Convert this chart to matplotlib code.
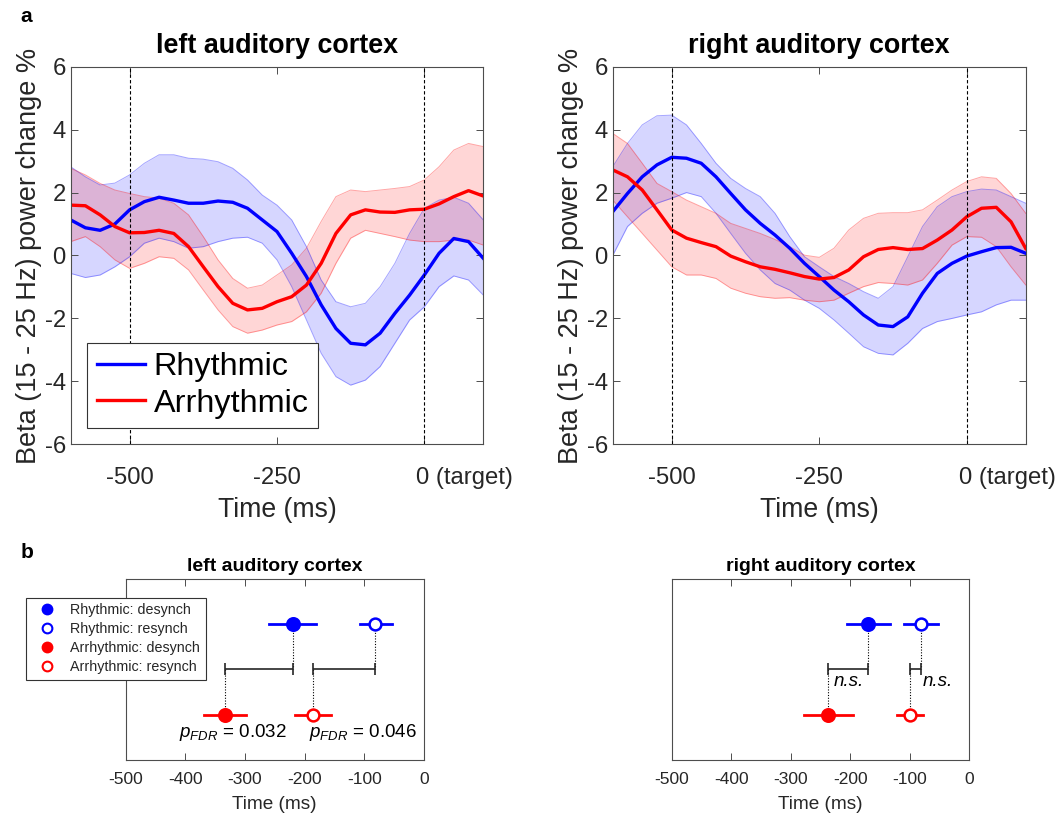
import matplotlib
matplotlib.use('Agg')
import matplotlib.pyplot as plt
import matplotlib.transforms as mtransforms
from matplotlib.lines import Line2D
import numpy as np

plt.rcParams['font.family'] = ['Liberation Sans', 'DejaVu Sans']
plt.rcParams['mathtext.fontset'] = 'custom'
plt.rcParams['mathtext.it'] = 'Liberation Sans:italic'
plt.rcParams['mathtext.rm'] = 'Liberation Sans'
plt.rcParams['axes.unicode_minus'] = False

# ---- panel a data (time in ms, beta power change %) ----
time = [-600, -575, -550, -525, -500, -475, -450, -425, -400, -375, -350, -325, -300, -275,
        -250, -225, -200, -175, -150, -125, -100, -75, -50, -25, 0, 25, 50, 75, 100]

left_rhy = [1.13, 0.88, 0.80, 1.00, 1.45, 1.71, 1.85, 1.76, 1.66, 1.66, 1.73, 1.69, 1.50, 1.13,
            0.76, 0.07, -0.67, -1.57, -2.32, -2.79, -2.84, -2.47, -1.84, -1.26, -0.62, 0.07, 0.54, 0.44, -0.09]
left_rhy_hi = [2.82, 2.50, 2.24, 2.30, 2.56, 2.93, 3.20, 3.20, 3.09, 3.06, 2.98, 2.77, 2.40, 1.92,
               1.60, 1.13, 0.28, -0.78, -1.47, -1.63, -1.52, -0.99, -0.25, 0.70, 1.50, 1.76, 1.85, 1.66, 1.13]
left_rhy_lo = [-0.57, -0.70, -0.62, -0.36, -0.04, 0.39, 0.55, 0.44, 0.23, 0.28, 0.44, 0.55, 0.58, 0.39,
               -0.14, -0.99, -2.05, -3.11, -3.85, -4.12, -3.96, -3.53, -2.79, -2.05, -1.63, -0.99, -0.65, -0.78, -1.26]
left_arr = [1.60, 1.58, 1.29, 0.92, 0.72, 0.73, 0.80, 0.70, 0.28, -0.36, -0.99, -1.52, -1.73, -1.68,
            -1.47, -1.31, -0.94, -0.25, 0.70, 1.29, 1.45, 1.38, 1.37, 1.45, 1.47, 1.64, 1.87, 2.06, 1.89]
left_arr_hi = [2.77, 2.56, 2.29, 2.08, 1.97, 1.87, 1.82, 1.66, 1.29, 0.60, -0.14, -0.73, -1.04, -0.94,
               -0.62, -0.30, 0.23, 1.08, 1.87, 2.08, 2.03, 2.08, 2.13, 2.19, 2.40, 2.82, 3.35, 3.56, 3.46]
left_arr_lo = [0.44, 0.60, 0.28, -0.14, -0.41, -0.25, -0.04, -0.09, -0.46, -1.10, -1.73, -2.26, -2.47, -2.37,
               -2.21, -2.10, -1.79, -1.20, -0.25, 0.55, 0.80, 0.70, 0.60, 0.49, 0.44, 0.44, 0.49, 0.49, 0.33]

right_rhy = [1.39, 1.97, 2.50, 2.88, 3.12, 3.09, 2.93, 2.50, 1.97, 1.45, 1.02, 0.65, 0.23, -0.25,
             -0.67, -1.10, -1.47, -1.89, -2.21, -2.26, -1.95, -1.20, -0.57, -0.25, -0.02, 0.12, 0.25, 0.26, 0.07]
right_rhy_hi = [2.82, 3.56, 4.15, 4.44, 4.46, 4.15, 3.56, 2.93, 2.45, 2.13, 1.87, 1.34, 0.60, -0.04,
                -0.36, -0.67, -0.89, -1.15, -1.36, -0.99, -0.04, 0.92, 1.55, 1.87, 2.03, 2.11, 2.08, 1.87, 1.66]
right_rhy_lo = [0.00, 0.92, 1.34, 1.66, 1.82, 2.00, 1.87, 1.34, 0.70, 0.07, -0.46, -0.89, -1.10, -1.42,
                -1.68, -2.05, -2.47, -2.90, -3.11, -3.16, -2.79, -2.32, -2.10, -2.00, -1.89, -1.79, -1.57, -1.42, -1.42]
right_arr = [2.72, 2.50, 2.08, 1.45, 0.81, 0.55, 0.41, 0.28, -0.02, -0.20, -0.36, -0.44, -0.55, -0.67,
             -0.75, -0.70, -0.46, -0.04, 0.19, 0.25, 0.19, 0.22, 0.49, 0.81, 1.23, 1.50, 1.53, 1.07, 0.22]
right_arr_hi = [3.88, 3.56, 2.93, 2.29, 2.03, 1.76, 1.55, 1.34, 1.02, 0.86, 0.70, 0.51, 0.28, 0.01,
                -0.06, 0.23, 0.81, 1.18, 1.34, 1.36, 1.36, 1.45, 1.76, 2.08, 2.35, 2.50, 2.45, 1.97, 1.34]
right_arr_lo = [1.76, 1.23, 0.70, 0.17, -0.36, -0.62, -0.62, -0.73, -1.04, -1.20, -1.31, -1.36, -1.34, -1.42,
                -1.47, -1.42, -1.20, -0.99, -0.86, -0.89, -0.94, -0.78, -0.25, 0.33, 0.60, 0.58, 0.28, -0.36, -0.94]

x_ticks_a = [-500, -250, 0]
x_ticklabels_a = ['-500', '-250', '0 (target)']

# ---- panel b data (peak latencies, ms) ----
conditions = ['Rhythmic: desynch', 'Rhythmic: resynch', 'Arrhythmic: desynch', 'Arrhythmic: resynch']
left_lat = [-219, -81, -334, -186]
left_lat_lo = [-259, -107, -369, -216]
left_lat_hi = [-181, -54, -299, -155]
right_lat = [-170, -81, -238, -100]
right_lat_lo = [-206, -110, -278, -121]
right_lat_hi = [-133, -52, -195, -77]
left_stats = ['$p_{FDR}$ = 0.032', '$p_{FDR}$ = 0.046']
right_stats = ['n.s.', 'n.s.']

BLUE = (0, 0, 1)
RED = (1, 0, 0)
GREY = '#262626'

fig = plt.figure(figsize=(10.61, 8.17), dpi=100)


def style_axes(ax, size):
    for s in ax.spines.values():
        s.set_color('0.3')
        s.set_linewidth(0.8)
    ax.tick_params(direction='in', top=True, right=True, length=5, width=0.7,
                   color='0.3', labelcolor=GREY, labelsize=size)


def draw_top(ax, title, rhy, rhy_lo, rhy_hi, arr, arr_lo, arr_hi, legend=False):
    ax.fill_between(time, rhy_lo, rhy_hi, color=BLUE, alpha=0.16, lw=0)
    ax.plot(time, rhy_lo, color=BLUE, lw=0.7, alpha=0.35)
    ax.plot(time, rhy_hi, color=BLUE, lw=0.7, alpha=0.35)
    ax.fill_between(time, arr_lo, arr_hi, color=RED, alpha=0.16, lw=0)
    ax.plot(time, arr_lo, color=RED, lw=0.7, alpha=0.35)
    ax.plot(time, arr_hi, color=RED, lw=0.7, alpha=0.35)
    l1, = ax.plot(time, rhy, color=BLUE, lw=2.4, label='Rhythmic')
    l2, = ax.plot(time, arr, color=RED, lw=2.4, label='Arrhythmic')
    for xv in [-500, 0]:
        ax.axvline(xv, color='k', lw=0.8, ls=(0, (3, 2)))
    ax.set_xlim(-600, 100)
    ax.set_ylim(-6, 6)
    ax.set_xticks(x_ticks_a)
    ax.set_xticklabels(x_ticklabels_a)
    ax.set_yticks(np.arange(-6, 7, 2))
    ax.set_xlabel('Time (ms)', fontsize=19.2, color=GREY, labelpad=6)
    ax.set_ylabel('Beta (15 - 25 Hz) power change %', fontsize=19.5, color=GREY, labelpad=2)
    ax.set_title(title, fontsize=19.4, fontweight='bold', pad=10)
    style_axes(ax, 17.2)
    ax.tick_params(axis='x', pad=16)
    # the "0" of "0 (target)" sits on the tick, the rest runs to the right
    lab = ax.get_xticklabels()[-1]
    lab.set_horizontalalignment('left')
    lab.set_transform(lab.get_transform() + mtransforms.ScaledTranslation(-8 / 100, 0, fig.dpi_scale_trans))
    if legend:
        leg = ax.legend(handles=[l1, l2], loc='lower left', bbox_to_anchor=(0.040, 0.042),
                        borderaxespad=0, fontsize=23.3, handlelength=1.5, handletextpad=0.25,
                        labelspacing=0.2, fancybox=False, framealpha=1, borderpad=0.3)
        leg.get_frame().set_edgecolor('0.2')
        leg.get_frame().set_linewidth(0.8)


ax1 = fig.add_axes([0.0666, 0.4562, 0.3889, 0.4622])
draw_top(ax1, 'left auditory cortex', left_rhy, left_rhy_lo, left_rhy_hi,
         left_arr, left_arr_lo, left_arr_hi, legend=True)
ax2 = fig.add_axes([0.5775, 0.4562, 0.3893, 0.4622])
draw_top(ax2, 'right auditory cortex', right_rhy, right_rhy_lo, right_rhy_hi,
         right_arr, right_arr_lo, right_arr_hi)


def draw_bottom(ax, title, lat, lo, hi, stats, stat_x, stat_y, italic):
    rows = [3, 3, 1, 1]
    cols = [BLUE, BLUE, RED, RED]
    filled = [True, False, True, False]
    # brackets between desynch pair and resynch pair
    for a, b in [(2, 0), (3, 1)]:
        ax.plot([lat[b], lat[b]], [rows[b], 2], color='k', lw=0.8, ls=(0, (1, 1.5)), zorder=1)
        ax.plot([lat[a], lat[a]], [rows[a], 2], color='k', lw=0.8, ls=(0, (1, 1.5)), zorder=1)
        ax.errorbar((lat[a] + lat[b]) / 2, 2, xerr=(lat[b] - lat[a]) / 2, fmt='none',
                    ecolor='0.15', elinewidth=1.2, capsize=4.5, capthick=1.2, zorder=2)
    for i in range(4):
        ax.plot([lo[i], hi[i]], [rows[i], rows[i]], color=cols[i], lw=2.0, zorder=3)
        ax.plot(lat[i], rows[i], 'o', ms=9 if filled[i] else 8.5,
                mfc=cols[i] if filled[i] else 'white', mec=cols[i], mew=1.8, zorder=4)
    for t, sx in zip(stats, stat_x):
        ax.text(sx, stat_y, t, ha='center', va='center', fontsize=13.5, color='k',
                fontstyle='italic' if italic else 'normal')
    ax.set_xlim(-500, 0)
    ax.set_ylim(0, 4)
    ax.set_yticks([])
    ax.set_xticks(np.arange(-500, 1, 100))
    ax.set_xlabel('Time (ms)', fontsize=13.7, color=GREY, labelpad=6)
    ax.set_title(title, fontsize=14, fontweight='bold', pad=6)
    style_axes(ax, 12.5)
    ax.tick_params(axis='x', pad=9)
    ax.tick_params(axis='y', left=False, right=False)


ax3 = fig.add_axes([0.1185, 0.0701, 0.2809, 0.2212])
draw_bottom(ax3, 'left auditory cortex', left_lat, left_lat_lo, left_lat_hi,
            left_stats, [-321, -102], 0.6, False)
ax4 = fig.add_axes([0.6331, 0.0701, 0.2805, 0.2212])
draw_bottom(ax4, 'right auditory cortex', right_lat, right_lat_lo, right_lat_hi,
            right_stats, [-203, -53], 1.73, True)

handles = [Line2D([], [], ls='none', marker='o', ms=7, mfc=BLUE, mec=BLUE, mew=1.5),
           Line2D([], [], ls='none', marker='o', ms=7, mfc='white', mec=BLUE, mew=1.5),
           Line2D([], [], ls='none', marker='o', ms=7, mfc=RED, mec=RED, mew=1.5),
           Line2D([], [], ls='none', marker='o', ms=7, mfc='white', mec=RED, mew=1.5)]
leg = fig.legend(handles, conditions, loc='upper left', bbox_to_anchor=(26 / 1061, 1 - 597.7 / 817),
                 bbox_transform=fig.transFigure, borderaxespad=0, fontsize=10.3,
                 fancybox=False, framealpha=1, labelspacing=0.35, handletextpad=0.5,
                 handlelength=2.2, borderpad=0.4)
leg.get_frame().set_edgecolor('0.2')
leg.get_frame().set_linewidth(0.8)
for t in leg.get_texts():
    t.set_color(GREY)

fig.text(26.5 / 1061, 1 - 16 / 817, 'a', fontsize=15, fontweight='bold', ha='center', va='center')
fig.text(27 / 1061, 1 - 553 / 817, 'b', fontsize=15, fontweight='bold', ha='center', va='center')

plt.savefig('out.png', dpi=100)
